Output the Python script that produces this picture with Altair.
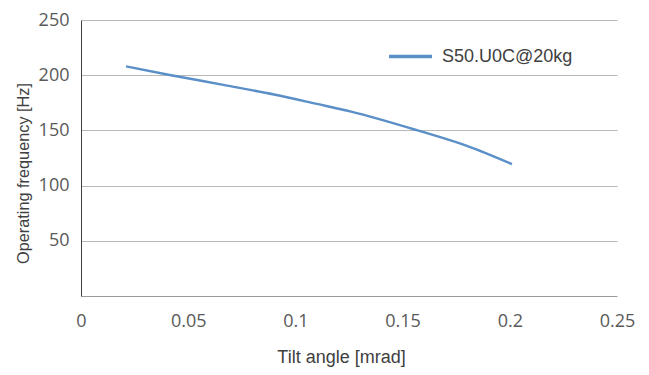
import altair as alt
import pandas as pd

tilt = [0.021, 0.042, 0.067, 0.090, 0.110, 0.126, 0.157, 0.180, 0.201]
freq = [208, 200, 191, 182.5, 174, 167, 150, 136, 119.5]
series = ["S50.U0C@20kg"] * len(tilt)

df = pd.DataFrame({"tilt": tilt, "freq": freq, "series": series})

x_ticks = [0, 0.05, 0.1, 0.15, 0.2, 0.25]
y_ticks = [50, 100, 150, 200, 250]

chart = alt.Chart(df).mark_line(strokeWidth=2.5, interpolate="monotone").encode(
    x=alt.X("tilt:Q", scale=alt.Scale(domain=[0, 0.25], nice=False),
            axis=alt.Axis(title="Tilt angle [mrad]", values=x_ticks, grid=False,
                          ticks=False, labelPadding=16, labelFontSize=18,
                          labelFlush=False, labelFont="Open Sans", labelColor="#595959",
                          titleFont="Liberation Sans", titleFontSize=18,
                          titleFontWeight="normal", titleColor="#404040",
                          titleX=260, titleY=61, titleBaseline="middle",
                          titleAlign="center", domainColor="#9a9a9a",
                          labelExpr="datum.value == 0 ? '0' : format(datum.value, '.2~f')")),
    y=alt.Y("freq:Q", scale=alt.Scale(domain=[0, 250], nice=False),
            axis=alt.Axis(title="Operating frequency [Hz]", values=y_ticks, grid=True,
                          gridColor="#b8b8b8", ticks=False, labelPadding=12,
                          labelFontSize=18, labelFont="Open Sans", labelColor="#595959",
                          titleFont="Liberation Sans", titleFontSize=16.3,
                          titleFontWeight="normal", titleColor="#404040",
                          titleX=-58, titleY=153, titleBaseline="middle",
                          titleAlign="center", domainColor="#404040")),
    color=alt.Color("series:N", scale=alt.Scale(range=["#5B8FC7"]),
                    legend=alt.Legend(title=None, orient="none", legendX=306, legendY=13,
                                      symbolType="stroke", symbolStrokeWidth=3.5,
                                      symbolSize=1849, labelFontSize=18,
                                      labelFont="Liberation Sans", labelColor="#404040",
                                      labelOffset=8)),
).properties(
    width=536, height=276,
    autosize=alt.AutoSizeParams(type="none"),
    padding={"left": 73, "top": 12, "right": 22, "bottom": 78},
).configure_view(stroke=None)

chart.save("out.html", embed_options={"renderer": "svg", "actions": False})
